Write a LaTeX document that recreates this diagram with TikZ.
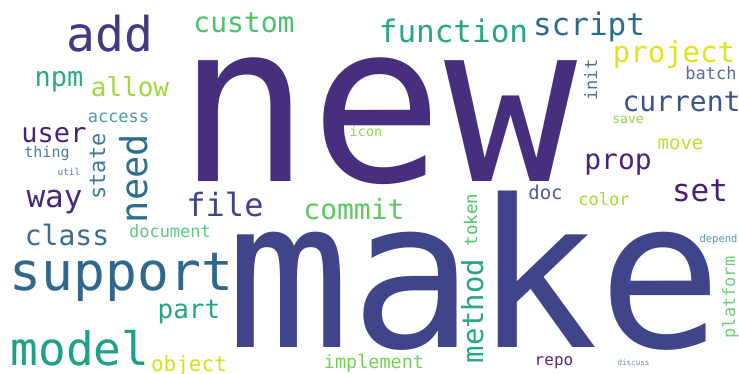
\documentclass[tikz,border=0pt]{standalone}
\usepackage{fontspec}
\newfontfamily\cloudfont{DejaVu Sans Mono}
\newcommand{\wfs}[1]{\cloudfont\fontsize{#1}{#1}\selectfont}
\definecolor{cNew}{HTML}{472F7D}
\definecolor{cMake}{HTML}{404488}
\definecolor{cAdd}{HTML}{443983}
\definecolor{cCustom}{HTML}{4AC16D}
\definecolor{cFunction}{HTML}{26A784}
\definecolor{cScript}{HTML}{2F6B8E}
\definecolor{cProject}{HTML}{E2E418}
\definecolor{cNpm}{HTML}{27AD81}
\definecolor{cAllow}{HTML}{A0DA39}
\definecolor{cAccess}{HTML}{4A9BAE}
\definecolor{cUser}{HTML}{482475}
\definecolor{cThing}{HTML}{5478A0}
\definecolor{cUtil}{HTML}{5A78A8}
\definecolor{cState}{HTML}{3E7C9A}
\definecolor{cNeed}{HTML}{2D708E}
\definecolor{cIcon}{HTML}{8FD744}
\definecolor{cInit}{HTML}{4D6E91}
\definecolor{cBatch}{HTML}{5B6B9E}
\definecolor{cCurrent}{HTML}{3B528B}
\definecolor{cSave}{HTML}{8ED645}
\definecolor{cMove}{HTML}{C0DF25}
\definecolor{cProp}{HTML}{482677}
\definecolor{cSet}{HTML}{481F70}
\definecolor{cDoc}{HTML}{4E5D96}
\definecolor{cColor}{HTML}{A5DB36}
\definecolor{cDepend}{HTML}{3FA0A8}
\definecolor{cPlatform}{HTML}{6FCF7A}
\definecolor{cRepo}{HTML}{5C2A7A}
\definecolor{cDiscuss}{HTML}{6F86B0}
\definecolor{cWay}{HTML}{482878}
\definecolor{cFile}{HTML}{414487}
\definecolor{cClass}{HTML}{3B6A8D}
\definecolor{cDocument}{HTML}{5EC987}
\definecolor{cSupport}{HTML}{30678D}
\definecolor{cPart}{HTML}{21A685}
\definecolor{cModel}{HTML}{1FA088}
\definecolor{cObject}{HTML}{D2E21B}
\definecolor{cCommit}{HTML}{5EC962}
\definecolor{cToken}{HTML}{52C569}
\definecolor{cMethod}{HTML}{22A884}
\definecolor{cImplement}{HTML}{75D054}
\begin{document}
\begin{tikzpicture}[x=1pt,y=-1pt]
  \tikzset{w/.style={inner sep=0pt, anchor=base},
           up/.style={w, rotate=90}}
  \useasboundingbox[fill=white] (0,0) rectangle (739,374);
  % big words
  \node[w, text=cNew, font=\wfs{221}] (new) at (377.5,182) {new};
  \node[w, text=cMake, font=\wfs{206}] (make) at (475,347) {make};
  \node[w, text=cAdd, font=\wfs{48}] (add) at (110,52) {add};
  \node[w, text=cSupport, font=\wfs{53}] (support) at (121.5,290) {support};
  \node[w, text=cModel, font=\wfs{46}] (model) at (80,365) {model};
  % top row
  \node[w, text=cCustom, font=\wfs{28}] (custom) at (244,33) {custom};
  \node[w, text=cFunction, font=\wfs{31}] (function) at (453.5,43) {function};
  \node[w, text=cScript, font=\wfs{31}] (script) at (589,36) {script};
  \node[w, text=cProject, font=\wfs{29}] (project) at (674,63) {project};
  % left column
  \node[w, text=cNpm, font=\wfs{27}] (npm) at (59,87) {npm};
  \node[w, text=cAllow, font=\wfs{26}] (allow) at (130,97) {allow};
  \node[w, text=cAccess, font=\wfs{17}] (access) at (118.5,123) {access};
  \node[w, text=cUser, font=\wfs{27}] (user) at (54,143) {user};
  \node[w, text=cThing, font=\wfs{15}] (thing) at (47,158) {thing};
  \node[w, text=cUtil, font=\wfs{9.5}] (util) at (69,176) {util};
  \node[up, text=cState, font=\wfs{22}] (state) at (105,166.5) {state};
  \node[up, text=cNeed, font=\wfs{37}] (need) at (147,178.5) {need};
  \node[w, text=cWay, font=\wfs{31}] (way) at (54.5,208) {way};
  \node[w, text=cFile, font=\wfs{32}] (file) at (225,217) {file};
  \node[w, text=cClass, font=\wfs{28}] (class) at (67,245) {class};
  \node[w, text=cDocument, font=\wfs{17}] (document) at (170,237) {document};
  \node[w, text=cPart, font=\wfs{26}] (part) at (189,318) {part};
  \node[w, text=cObject, font=\wfs{21}] (object) at (189,371) {object};
  % middle
  \node[w, text=cIcon, font=\wfs{13.5}] (icon) at (366,137) {icon};
  \node[w, text=cCommit, font=\wfs{28}] (commit) at (354,220) {commit};
  \node[up, text=cToken, font=\wfs{17.5}] (token) at (477,220) {token};
  \node[up, text=cMethod, font=\wfs{29}] (method) at (483,311) {method};
  \node[w, text=cImplement, font=\wfs{18.5}] (implement) at (374,368) {implement};
  % right column
  \node[up, text=cInit, font=\wfs{17}] (init) at (597,80) {init};
  \node[w, text=cBatch, font=\wfs{17}] (batch) at (711,80) {batch};
  \node[w, text=cCurrent, font=\wfs{28}] (current) at (681.5,112) {current};
  \node[w, text=cSave, font=\wfs{13}] (save) at (628,124) {save};
  \node[w, text=cMove, font=\wfs{19}] (move) at (680.5,150) {move};
  \node[w, text=cProp, font=\wfs{28}] (prop) at (618,170) {prop};
  \node[w, text=cSet, font=\wfs{31}] (set) at (700,202) {set};
  \node[w, text=cDoc, font=\wfs{19}] (doc) at (545.5,200) {doc};
  \node[w, text=cColor, font=\wfs{17}] (color) at (604,206) {color};
  \node[w, text=cDepend, font=\wfs{10.5}] (depend) at (718.5,243) {depend};
  \node[up, text=cPlatform, font=\wfs{17}] (platform) at (735,297.5) {platform};
  \node[w, text=cRepo, font=\wfs{16}] (repo) at (554,365) {repo};
  \node[w, text=cDiscuss, font=\wfs{7.5}] (discuss) at (633.5,365) {discuss};
\end{tikzpicture}
\end{document}
